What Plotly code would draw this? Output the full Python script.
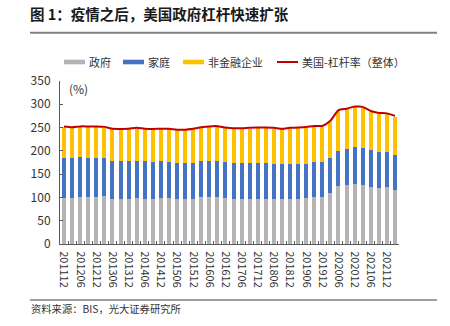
import plotly.graph_objects as go

# Quarter-end periods (YYYYMM)
periods = [
    "201112", "201203", "201206", "201209", "201212", "201303", "201306", "201309",
    "201312", "201403", "201406", "201409", "201412", "201503", "201506", "201509",
    "201512", "201603", "201606", "201609", "201612", "201703", "201706", "201709",
    "201712", "201803", "201806", "201809", "201812", "201903", "201906", "201909",
    "201912", "202003", "202006", "202009", "202012", "202103", "202106", "202109",
    "202112", "202203",
]

# Debt-to-GDP by sector, %
government = [99.3, 98, 101, 101, 101.4, 103, 97, 96, 97, 98.6, 97, 97.5, 99, 99,
              96, 96, 97, 101, 102, 101, 99, 97, 96.4, 97, 97, 97, 96, 96, 97, 97,
              98.6, 101, 101, 109, 125, 127, 129, 126, 123, 121, 121.4, 116]
household = [85.7, 86, 85, 84, 82.6, 81, 82, 82.6, 82, 80.4, 82, 79.5, 79.6, 77,
             78, 77.6, 78, 77, 77, 78, 77, 77, 77.2, 77, 77, 77, 76, 75, 75, 75,
             73.4, 75, 75, 74.6, 75, 77, 80, 80, 79, 77.6, 77.2, 75]
nonfin_corp = [65.7, 65, 65, 66, 67, 66, 67, 67.1, 67, 69, 67, 68.5, 67.4, 70,
               70, 70.4, 71, 71, 72, 72.4, 72.6, 73, 73.4, 74, 74.6, 74.6, 76, 75,
               76, 76.6, 77.5, 76, 76, 79.4, 86, 85, 84.6, 87, 82, 81.4, 80.4, 82.6]
# Total non-financial sector leverage, %
total_leverage = [252.2, 250.5, 252.5, 252.5, 252.5, 251.5, 247.5, 247.2, 247.5,
                  249.5, 247.5, 247, 247.5, 247.5, 245.5, 245.5, 247.5, 250.5,
                  252.5, 253, 250, 248.5, 248.5, 249.5, 250, 250, 249.5, 247.5,
                  249.5, 250, 251, 253.5, 253.5, 264.5, 287.5, 290.5, 295, 294.5,
                  285.5, 281.5, 280.5, 275]

series_names = ["政府", "家庭", "非金融企业", "美国-杠杆率（整体）"]
series_colors = ["#B4B4B4", "#4472C4", "#FFC000", "#C00000"]

FONT = "Noto Sans CJK SC"
W, H = 450, 326
L, R, T, B = 60, 51, 81, 82
PW, PH = W - L - R, H - T - B


def px(x):
    return (x - L) / PW


def py(y):
    return (H - B - y) / PH


fig = go.Figure()
for vals, name, color in zip([government, household, nonfin_corp], series_names[:3], series_colors[:3]):
    fig.add_trace(go.Bar(x=periods, y=vals, name=name, marker=dict(color=color, line=dict(width=0)),
                         showlegend=False))
fig.add_trace(go.Scatter(x=periods, y=total_leverage, name=series_names[3], mode="lines",
                         line=dict(color=series_colors[3], width=2, shape="spline", smoothing=0.6),
                         showlegend=False))

tick_text = [p if i % 2 == 0 else "" for i, p in enumerate(periods)]

fig.update_layout(
    width=W, height=H,
    margin=dict(l=L, r=R, t=T, b=B),
    paper_bgcolor="white", plot_bgcolor="white",
    barmode="stack", bargap=0.5,
    font=dict(family=FONT, size=11, color="#333333"),
    title=dict(text="<b>图 1：疫情之后，美国政府杠杆快速扩张</b>", xref="container", yref="container",
               x=30 / W, y=1 - 15 / H, xanchor="left", yanchor="middle",
               font=dict(family=FONT, size=14.5, color="#1a1a1a")),
    xaxis=dict(type="category", tickmode="array", tickvals=periods, ticktext=tick_text,
               tickangle=90, tickson="boundaries", ticks="inside", ticklen=3,
               tickcolor="#595959", showline=True, linecolor="#595959", linewidth=1,
               showgrid=False, zeroline=False, range=[-0.5, len(periods) - 0.5],
               tickfont=dict(size=11, color="#333333"), ticklabelstandoff=4),
    yaxis=dict(range=[0, 350], dtick=50, tick0=0, ticks="inside", ticklen=3,
               tickcolor="#595959", showline=True, linecolor="#595959", linewidth=1,
               showgrid=False, zeroline=False, tickfont=dict(size=12, color="#333333"),
               ticklabelstandoff=6),
)

shapes = [
    dict(type="line", xref="paper", yref="paper", x0=px(30), x1=px(437), y0=py(32.7), y1=py(32.7),
         line=dict(color="#7F7F7F", width=2)),
    dict(type="line", xref="paper", yref="paper", x0=px(30), x1=px(437), y0=py(300), y1=py(300),
         line=dict(color="#404040", width=1)),
]
annotations = [
    dict(text="(%)", xref="paper", yref="paper", x=px(67), y=py(88), xanchor="left", yanchor="middle",
         showarrow=False, font=dict(size=12, color="#333333")),
    dict(text="资料来源：BIS，光大证券研究所", xref="paper", yref="paper", x=px(29), y=py(308),
         xanchor="left", yanchor="middle", showarrow=False, font=dict(size=10.3, color="#333333")),
]

# Legend drawn as swatches + labels
legend_x = [64, 123, 183, 277]
for i, (name, color) in enumerate(zip(series_names, series_colors)):
    x0 = legend_x[i]
    if i < 3:
        shapes.append(dict(type="rect", xref="paper", yref="paper", x0=px(x0), x1=px(x0 + 21),
                           y0=py(64.3), y1=py(59.7), fillcolor=color, line=dict(width=0)))
    else:
        shapes.append(dict(type="line", xref="paper", yref="paper", x0=px(x0), x1=px(x0 + 21),
                           y0=py(62), y1=py(62), line=dict(color=color, width=2)))
    annotations.append(dict(text=name, xref="paper", yref="paper", x=px(x0 + 23), y=py(62),
                            xanchor="left", yanchor="middle", showarrow=False,
                            font=dict(size=11, color="#333333")))

fig.update_layout(shapes=shapes, annotations=annotations)
fig.write_html("out.html")
